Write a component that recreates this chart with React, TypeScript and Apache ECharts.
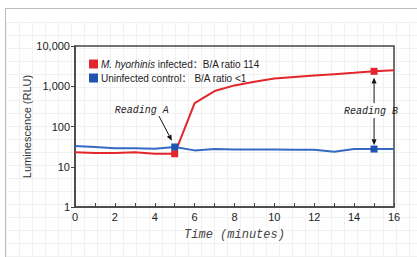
import React, { useEffect, useRef } from "react";
import * as echarts from "echarts";

const times = [0, 1, 2, 3, 4, 5, 6, 7, 8, 9, 10, 11, 12, 13, 14, 15, 16];
const infectedValues = [23, 22, 22, 23, 21, 21, 380, 760, 1050, 1300, 1550, 1700, 1850, 2000, 2150, 2350, 2500];
const controlValues = [33, 31, 29, 29, 28, 31, 25.5, 27.5, 27, 27, 27, 26.5, 26.5, 23.5, 27.5, 27.5, 27.5];
const markerTimes = [5, 15];
const yTicks = [1, 10, 100, 1000, 10000];
const xTickLabels = ["0", "2", "4", "6", "8", "10", "12", "14", "16"];
const legendInfected = "{i|M. hyorhinis} infected：B/A ratio 114";
const legendControl = "Uninfected control： B/A ratio <1";
// annotation arrows in data coordinates [time, RLU]: [from, to(arrow tip)]
const arrows = [
  [[4.21, 182], [4.86, 44]],
  [[15, 380], [15, 1650]],
  [[15, 162], [15, 34]],
];
const labelA = { text: "Reading A", at: [3.35, 257] };
const labelB = { text: "Reading B", at: [14.85, 230] };

const RED = "#e2262b";
const BLUE = "#3569c4";
const BLUE_MARK = "#1f55b0";

function buildData(vals: number[], color: string) {
  return times.map((t, i) =>
    markerTimes.includes(t)
      ? { value: [t, vals[i]], symbol: "rect", symbolSize: 7, itemStyle: { color } }
      : { value: [t, vals[i]], symbol: "none", symbolSize: 0 }
  );
}

export default function App() {
  const ref = useRef<HTMLDivElement>(null);
  useEffect(() => {
    if (!ref.current) return;
    const chart = echarts.init(ref.current, undefined, { renderer: "svg" });
    const font = "Liberation Sans, Arial, Noto Sans CJK SC, sans-serif";
    chart.setOption({
      animation: false,
      textStyle: { fontFamily: font },
      grid: {
        left: 75,
        right: 23,
        top: 46,
        bottom: 50,
        show: true,
        borderColor: "#444",
        borderWidth: 1.5,
        backgroundColor: "transparent",
      },
      legend: {
        orient: "vertical",
        left: 84,
        top: 54,
        itemWidth: 9,
        itemHeight: 9,
        itemGap: 4,
        selectedMode: false,
        data: [
          { name: "infected", icon: "rect", itemStyle: { color: RED } },
          { name: "control", icon: "rect", itemStyle: { color: BLUE_MARK } },
        ],
        formatter: (n: string) => (n === "infected" ? legendInfected : legendControl),
        textStyle: {
          fontSize: 10,
          color: "#222",
          fontFamily: font,
          padding: [0, 0, 0, -2],
          rich: { i: { fontStyle: "italic", fontSize: 10, color: "#222", fontFamily: font } },
        },
      },
      xAxis: {
        type: "value",
        min: 0,
        max: 16,
        interval: 2,
        name: "Time (minutes)",
        nameLocation: "middle",
        nameGap: 22,
        nameMoveOverlap: false,
        nameTextStyle: {
          fontFamily: "Liberation Mono, Courier New, monospace",
          fontStyle: "italic",
          fontSize: 12,
          color: "#444",
        },
        axisLine: { show: true, lineStyle: { color: "#444", width: 1.5 } },
        axisTick: { show: true, inside: true, length: 4, lineStyle: { color: "#444" } },
        minorTick: { show: true, splitNumber: 2, length: 4, lineStyle: { color: "#444" } },
        splitLine: { show: false },
        axisLabel: {
          fontSize: 11,
          color: "#222",
          margin: 4,
          formatter: (v: number) => (xTickLabels.includes(String(v)) ? String(v) : ""),
        },
      },
      yAxis: {
        type: "log",
        logBase: 10,
        min: yTicks[0],
        max: yTicks[yTicks.length - 1],
        name: "Luminescence (RLU)",
        nameLocation: "middle",
        nameGap: 48,
        nameMoveOverlap: false,
        nameTextStyle: { fontSize: 11, color: "#333", fontFamily: font, verticalAlign: "middle" },
        axisLine: { show: true, lineStyle: { color: "#444", width: 1.5 } },
        axisTick: { show: true, inside: false, length: 4, lineStyle: { color: "#444" } },
        splitLine: { show: false },
        axisLabel: {
          fontSize: 11,
          color: "#222",
          margin: 5,
          formatter: (v: number) => Math.round(v).toLocaleString("en-US"),
        },
      },
      series: [
        {
          name: "control",
          type: "line",
          data: buildData(controlValues, BLUE_MARK),
          lineStyle: { color: BLUE, width: 2 },
          itemStyle: { color: BLUE_MARK },
          z: 3,
        },
        {
          name: "infected",
          type: "line",
          data: buildData(infectedValues, RED),
          lineStyle: { color: RED, width: 2 },
          itemStyle: { color: RED },
          z: 2,
        },
      ],
    });
    const px = (p: number[]) => chart.convertToPixel({ gridIndex: 0 }, p) as number[];
    const pA = px(labelA.at);
    const pB = px(labelB.at);
    const mono = {
      fontFamily: "Liberation Mono, Courier New, monospace",
      fontStyle: "italic",
      fontSize: 10,
      fill: "#222",
      align: "center",
      verticalAlign: "middle",
    };
    const arrowGraphics: any[] = [];
    arrows.forEach(([from, to]) => {
      const a = px(from);
      const b = px(to);
      const dx = b[0] - a[0];
      const dy = b[1] - a[1];
      const len = Math.sqrt(dx * dx + dy * dy);
      const ux = dx / len;
      const uy = dy / len;
      const hl = 6;
      const hw = 2.5;
      const base = [b[0] - ux * hl, b[1] - uy * hl];
      arrowGraphics.push({
        type: "line",
        shape: { x1: a[0], y1: a[1], x2: base[0], y2: base[1] },
        style: { stroke: "#111", lineWidth: 1 },
        z: 10,
      });
      arrowGraphics.push({
        type: "polygon",
        shape: {
          points: [
            [b[0], b[1]],
            [base[0] - uy * hw, base[1] + ux * hw],
            [base[0] + uy * hw, base[1] - ux * hw],
          ],
        },
        style: { fill: "#111" },
        z: 10,
      });
    });
    chart.setOption({
      graphic: [
        ...arrowGraphics,
        { type: "text", x: pA[0], y: pA[1], style: { ...mono, text: labelA.text }, z: 10 },
        { type: "text", x: pB[0], y: pB[1], style: { ...mono, text: labelB.text }, z: 10 },
      ],
    });
    return () => chart.dispose();
  }, []);

  return (
    <div style={{ position: "absolute", left: 0, top: 0, width: 417, height: 257, background: "#fff", overflow: "hidden" }}>
      <div
        style={{
          position: "absolute",
          left: 6,
          top: 22,
          width: 411,
          height: 235,
          backgroundImage:
            "linear-gradient(to right, #f1f1f1 1px, transparent 1px), linear-gradient(to bottom, #f1f1f1 1px, transparent 1px)",
          backgroundSize: "13px 13px",
        }}
      />
      <div style={{ position: "absolute", left: 5, top: 8, width: 412, height: 0, borderTop: "1.5px solid #bdbdbd" }} />
      <div style={{ position: "absolute", left: 5, top: 8, width: 0, height: 249, borderLeft: "1.5px solid #bdbdbd" }} />
      <div ref={ref} style={{ position: "absolute", left: 0, top: 0, width: 417, height: 257 }} />
    </div>
  );
}
